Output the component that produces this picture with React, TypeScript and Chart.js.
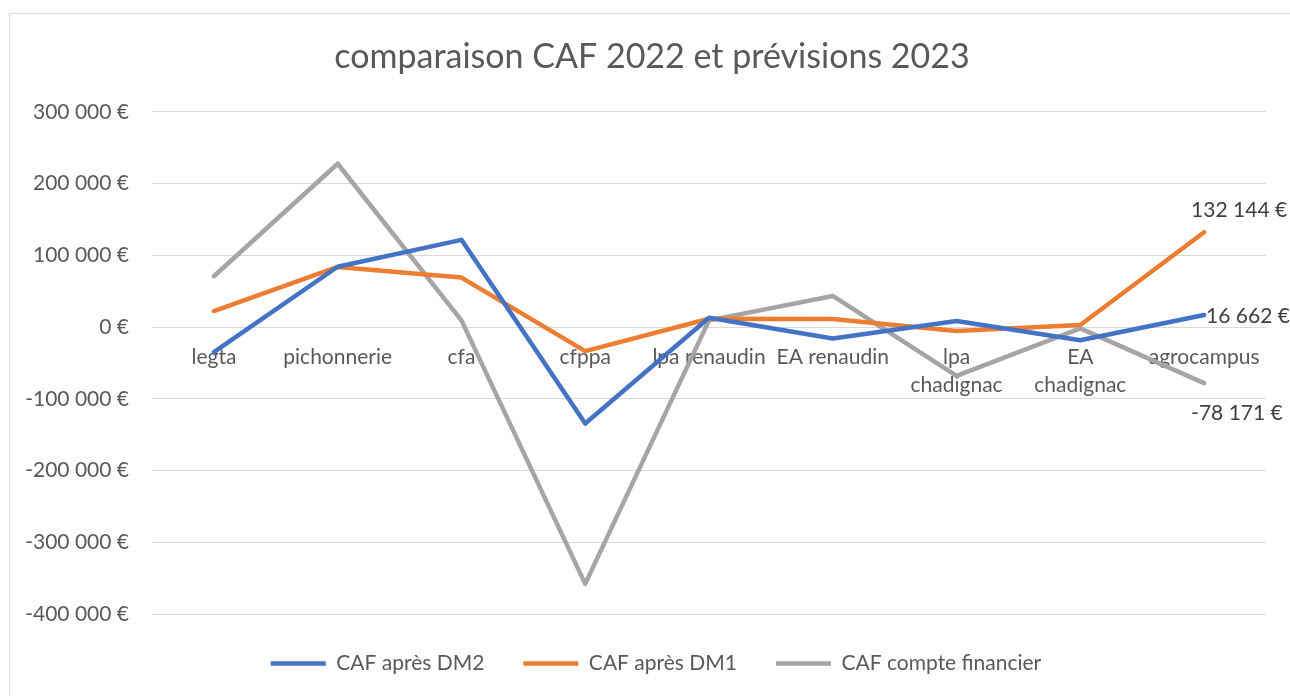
import React, { useEffect, useRef } from "react";
import { Chart, registerables } from "chart.js";

Chart.register(...registerables);

const categories: (string | string[])[] = [
  "legta",
  "pichonnerie",
  "cfa",
  "cfppa",
  "lpa renaudin",
  "EA renaudin",
  ["lpa", "chadignac"],
  ["EA", "chadignac"],
  "agrocampus",
];

const cafApresDM2 = [-35000, 84000, 121500, -134500, 13000, -16000, 8400, -18500, 16662];
const cafApresDM1 = [22300, 83800, 68900, -33500, 11600, 11200, -5600, 2800, 132144];
const cafCompteFinancier = [70800, 227600, 9300, -358000, 9300, 43300, -68000, -1800, -78171];

const seriesNames = ["CAF après DM2", "CAF après DM1", "CAF compte financier"];
const seriesColors = ["#4472C4", "#ED7D31", "#A5A5A5"];

const yMin = -400000;
const yMax = 300000;
const yStep = 100000;

const title = "comparaison CAF 2022 et prévisions 2023";

const FONT = "Lato, 'Open Sans', sans-serif";

function euro(v: number): string {
  const sign = v < 0 ? "-" : "";
  const s = Math.round(Math.abs(v)).toString().replace(/\B(?=(\d{3})+(?!\d))/g, " ");
  return sign + s + " €";
}

// offsets for the end-of-series data labels (style, not data)
const endLabelOffsets = [
  { dx: 2, dy: 1 },
  { dx: -13, dy: -22 },
  { dx: -13, dy: 30 },
];

const endLabelsPlugin = {
  id: "endLabels",
  afterDatasetsDraw(chart: any) {
    const ctx = chart.ctx;
    ctx.save();
    ctx.font = `21px ${FONT}`;
    ctx.fillStyle = "#404040";
    ctx.textAlign = "left";
    ctx.textBaseline = "middle";
    chart.data.datasets.forEach((ds: any, i: number) => {
      const meta = chart.getDatasetMeta(i);
      const last = meta.data.length - 1;
      const pt = meta.data[last];
      if (!pt) return;
      const off = endLabelOffsets[i];
      ctx.fillText(euro(ds.data[last]), pt.x + off.dx, pt.y + off.dy);
    });
    ctx.restore();
  },
};

// nudge the legend and title blocks slightly right, as in the reference
const blockShiftPlugin = {
  id: "blockShift",
  afterLayout(chart: any) {
    if (chart.legend) {
      chart.legend.left += 18;
      chart.legend.right += 18;
    }
    if (chart.titleBlock) {
      chart.titleBlock.left += 14;
      chart.titleBlock.right += 14;
    }
  },
};

export default function App() {
  const ref = useRef<HTMLCanvasElement | null>(null);

  useEffect(() => {
    if (!ref.current) return;
    const seriesData = [cafApresDM2, cafApresDM1, cafCompteFinancier];
    const chart = new Chart(ref.current, {
      type: "line",
      data: {
        labels: categories as any,
        datasets: seriesData.map((d, i) => ({
          label: seriesNames[i],
          data: d,
          borderColor: seriesColors[i],
          backgroundColor: seriesColors[i],
          borderWidth: 4.5,
          borderCapStyle: "round",
          borderJoinStyle: "round",
          pointRadius: 0,
          pointHoverRadius: 0,
          tension: 0,
          fill: false,
        })) as any,
      },
      options: {
        responsive: false,
        animation: false,
        layout: { padding: { left: 10, right: 24, top: 13, bottom: 12 } },
        plugins: {
          title: {
            display: true,
            text: title,
            color: "#595959",
            font: { family: FONT, size: 34, weight: "normal" as any, lineHeight: 1.2 },
            padding: { top: 24, bottom: 34 },
          },
          legend: {
            display: true,
            position: "bottom",
            labels: {
              usePointStyle: true,
              pointStyle: "line",
              pointStyleWidth: 55,
              boxHeight: 4,
              padding: 39,
              color: "#595959",
              font: { family: FONT, size: 21 },
            },
          },
          tooltip: { enabled: false },
        },
        scales: {
          x: {
            type: "category",
            position: { y: 0 } as any,
            offset: true,
            grid: { display: false, drawTicks: false },
            border: { display: false },
            ticks: {
              autoSkip: false,
              maxRotation: 0,
              minRotation: 0,
              padding: 17,
              color: "#595959",
              font: { family: FONT, size: 21, lineHeight: 1.3 },
            },
          },
          y: {
            min: yMin,
            max: yMax,
            afterFit(scale: any) {
              scale.width = 142;
            },
            grid: { color: "#d9d9d9", lineWidth: 1, drawTicks: false },
            border: { display: false },
            ticks: {
              stepSize: yStep,
              padding: 23,
              color: "#595959",
              font: { family: FONT, size: 21 },
              callback: (v: any) => euro(Number(v)),
            },
          },
        },
      },
      plugins: [endLabelsPlugin, blockShiftPlugin],
    });
    return () => chart.destroy();
  }, []);

  return (
    <div
      style={{
        position: "fixed",
        left: 0,
        top: 0,
        width: 1290,
        height: 696,
        background: "#ffffff",
        overflow: "hidden",
      }}
    >
      <div
        style={{
          position: "absolute",
          left: 9,
          top: 13,
          width: 1300,
          height: 720,
          border: "1px solid #d9d9d9",
        }}
      />
      <canvas
        ref={ref}
        width={1290}
        height={696}
        style={{ position: "absolute", left: 0, top: 0, width: 1290, height: 696 }}
      />
    </div>
  );
}
